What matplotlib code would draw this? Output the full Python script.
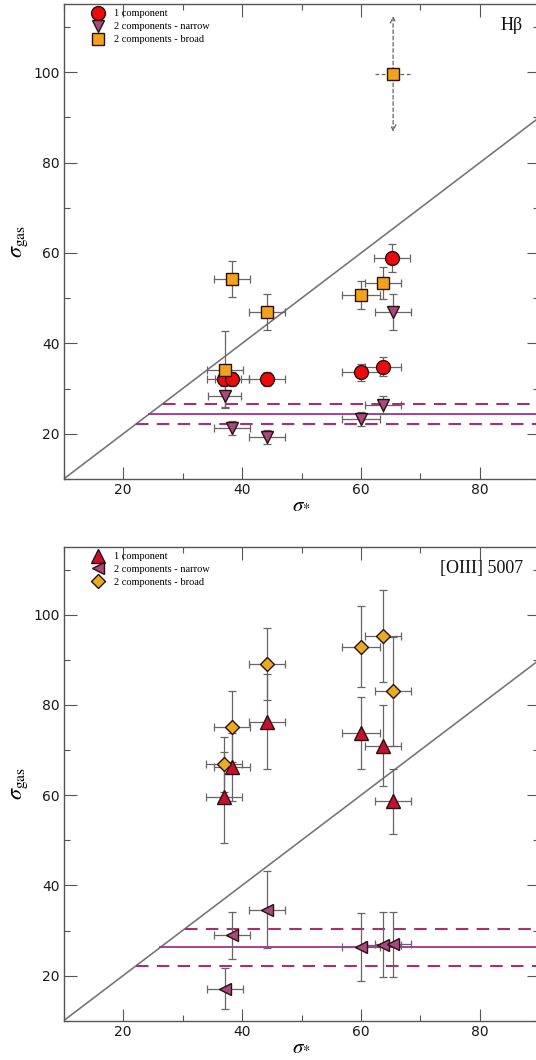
import matplotlib
matplotlib.use("Agg")
import matplotlib.pyplot as plt
from matplotlib.ticker import MultipleLocator
import numpy as np

plt.rcParams['mathtext.fontset'] = 'stix'

# ---------------- Data: H-beta panel ----------------
hb_one_x = [37.0, 38.3, 44.2, 60.0, 63.7, 65.2]
hb_one_y = [32.2, 32.2, 32.2, 33.6, 34.9, 58.9]
hb_one_xerr = [2.8, 2.8, 3.0, 3.2, 3.0, 3.0]
hb_one_yerr = [1.5, 1.5, 1.5, 1.8, 2.0, 3.0]

hb_nar_x = [37.1, 38.3, 44.2, 60.0, 63.7, 65.4]
hb_nar_y = [28.4, 21.3, 19.3, 23.3, 26.4, 46.9]
hb_nar_xerr = [2.8, 3.0, 3.0, 3.2, 3.0, 3.0]
hb_nar_yerr = [2.5, 1.5, 1.5, 1.5, 2.0, 4.0]

hb_brd_x = [37.1, 38.3, 44.2, 60.0, 63.7]
hb_brd_y = [34.2, 54.2, 46.9, 50.7, 53.3]
hb_brd_xerr = [3.0, 3.0, 3.0, 3.2, 3.0]
hb_brd_yerr = [8.5, 4.0, 4.0, 3.0, 3.5]

hb_up_x = [65.4]
hb_up_y = [99.6]
hb_up_xerr = [3.1]
hb_up_yerr = [13.4]

hb_fit = [24.4, 26.7, 22.2]   # mean, upper, lower

# ---------------- Data: [OIII] panel ----------------
o3_one_x = [37.0, 38.3, 44.2, 60.0, 63.7, 65.4]
o3_one_y = [59.5, 66.2, 76.3, 73.7, 71.0, 58.6]
o3_one_xerr = [3.0, 3.0, 3.0, 3.2, 3.0, 3.0]
o3_one_yerr = [10.0, 7.5, 10.5, 8.0, 9.0, 7.2]

o3_nar_x = [37.1, 38.3, 44.2, 60.0, 63.7, 65.4]
o3_nar_y = [17.1, 29.0, 34.6, 26.4, 26.8, 27.0]
o3_nar_xerr = [3.0, 3.0, 3.0, 3.2, 3.0, 3.0]
o3_nar_yerr = [4.5, 5.2, 8.5, 7.5, 7.2, 7.2]

o3_brd_x = [37.0, 38.3, 44.2, 60.0, 63.7, 65.4]
o3_brd_y = [66.8, 75.2, 89.1, 92.9, 95.3, 83.0]
o3_brd_xerr = [3.0, 3.0, 3.0, 3.2, 3.0, 3.0]
o3_brd_yerr = [6.0, 7.8, 8.0, 9.0, 10.2, 12.0]

o3_fit = [26.3, 30.4, 22.2]

x_ticks = [20, 40, 60, 80]
y_ticks = [20, 40, 60, 80, 100]

fig = plt.figure(figsize=(5.36, 10.6), dpi=100)
ax1 = fig.add_axes([0.1185, 0.548, 0.888, 0.448])
ax2 = fig.add_axes([0.1185, 0.0370, 0.888, 0.447])

ecol = '#666666'
edge = '#2a1010'
ebkw = dict(ecolor=ecol, elinewidth=0.9, capsize=3, capthick=0.9, linestyle='none')

def style(ax):
    ax.set_xlim(10, 90)
    ax.set_ylim(10, 115)
    ax.set_xticks(x_ticks)
    ax.set_yticks(y_ticks)
    ax.xaxis.set_minor_locator(MultipleLocator(10))
    ax.yaxis.set_minor_locator(MultipleLocator(10))
    ax.tick_params(which='both', direction='in', top=True, right=True,
                   colors='#555555', labelcolor='#1a1a1a', labelsize=10)
    ax.tick_params(which='major', length=9, width=0.8, pad=3)
    ax.tick_params(which='minor', length=4.5, width=0.8)
    for s in ax.spines.values():
        s.set_color('#555555')
        s.set_linewidth(1.0)
    ax.plot([10, 90], [10, 90], color='#777777', lw=1.2, zorder=1)
    ax.set_xlabel(r'$\sigma_{*}$', fontsize=15, labelpad=-3)
    ax.set_ylabel(r'$\sigma_{\rm gas}$', fontsize=16, labelpad=2)

def fitlines(ax, fit):
    m, u, l = fit
    ax.plot([m, 90], [m, m], color='#a0309a', lw=1.3, zorder=1)
    ax.plot([u, 90], [u, u], color='#a8306e', lw=1.5, ls=(0, (6, 4)), zorder=1)
    ax.plot([l, 90], [l, l], color='#a8306e', lw=1.5, ls=(0, (6, 4)), zorder=1)

# ---------- top panel ----------
style(ax1)
fitlines(ax1, hb_fit)
ax1.errorbar(hb_nar_x, hb_nar_y, xerr=hb_nar_xerr, yerr=hb_nar_yerr, **ebkw, zorder=2)
ax1.errorbar(hb_one_x, hb_one_y, xerr=hb_one_xerr, yerr=hb_one_yerr, **ebkw, zorder=2)
ax1.errorbar(hb_brd_x, hb_brd_y, xerr=hb_brd_xerr, yerr=hb_brd_yerr, **ebkw, zorder=2)
# dashed error bars with arrows for the uncertain point
for x, y, xe, ye in zip(hb_up_x, hb_up_y, hb_up_xerr, hb_up_yerr):
    ax1.plot([x - xe, x + xe], [y, y], color=ecol, lw=0.9, ls=(0, (3, 2)), zorder=2)
    ax1.annotate('', xy=(x, y + ye), xytext=(x, y),
                 arrowprops=dict(arrowstyle='->', color=ecol, lw=0.9, ls=(0, (3, 2))), zorder=2)
    ax1.annotate('', xy=(x, y - ye), xytext=(x, y),
                 arrowprops=dict(arrowstyle='->', color=ecol, lw=0.9, ls=(0, (3, 2))), zorder=2)

h_nar, = ax1.plot(hb_nar_x, hb_nar_y, 'v', ms=9, mfc='#a84a7e', mec=edge, mew=1.0,
                  ls='none', zorder=3, label='2 components - narrow')
h_one, = ax1.plot(hb_one_x, hb_one_y, 'o', ms=10, mfc='#ee0a0a', mec=edge, mew=1.0,
                  ls='none', zorder=4, label='1 component')
h_brd, = ax1.plot(hb_brd_x + hb_up_x, hb_brd_y + hb_up_y, 's', ms=8, mfc='#f2a31b', mec=edge,
                  mew=1.0, ls='none', zorder=5, label='2 components - broad')

legkw = dict(loc='upper left', frameon=False,
             prop={'family': 'Liberation Serif', 'size': 7.5},
             bbox_to_anchor=(0.045, 1.005), handletextpad=0.9, labelspacing=0.35,
             borderaxespad=0.3, handlelength=1.2)
ax1.legend(handles=[h_one, h_nar, h_brd], **legkw)
ax1.text(0.965, 0.955, 'H\u03b2', transform=ax1.transAxes, ha='right', va='center',
         fontsize=13, family='Liberation Serif', color='#111111')

# ---------- bottom panel ----------
style(ax2)
fitlines(ax2, o3_fit)
ax2.errorbar(o3_nar_x, o3_nar_y, xerr=o3_nar_xerr, yerr=o3_nar_yerr, **ebkw, zorder=2)
ax2.errorbar(o3_one_x, o3_one_y, xerr=o3_one_xerr, yerr=o3_one_yerr, **ebkw, zorder=2)
ax2.errorbar(o3_brd_x, o3_brd_y, xerr=o3_brd_xerr, yerr=o3_brd_yerr, **ebkw, zorder=2)

g_nar, = ax2.plot(o3_nar_x, o3_nar_y, '<', ms=9, mfc='#a84a7e', mec=edge, mew=1.0,
                  ls='none', zorder=3, label='2 components - narrow')
g_one, = ax2.plot(o3_one_x, o3_one_y, '^', ms=10, mfc='#c8102e', mec=edge, mew=1.0,
                  ls='none', zorder=4, label='1 component')
g_brd, = ax2.plot(o3_brd_x, o3_brd_y, 'D', ms=7, mfc='#e8ac1e', mec=edge, mew=1.0,
                  ls='none', zorder=5, label='2 components - broad')

ax2.legend(handles=[g_one, g_nar, g_brd], **legkw)
ax2.text(0.965, 0.955, '[OIII] 5007', transform=ax2.transAxes, ha='right', va='center',
         fontsize=13, family='Liberation Serif', color='#111111')

fig.savefig('out.png', dpi=100)
